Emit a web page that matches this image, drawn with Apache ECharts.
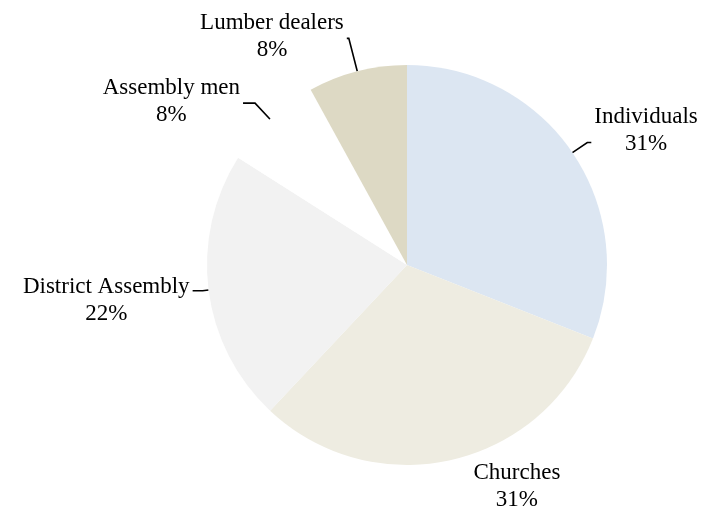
<!DOCTYPE html>
<html>
<head>
<meta charset="utf-8">
<script src="https://cdn.jsdelivr.net/npm/echarts@6/dist/echarts.min.js"></script>
<style>
  html, body { margin: 0; padding: 0; background: #fff; }
  #chart { width: 704px; height: 511px; }
</style>
</head>
<body>
<div id="chart"></div>
<script>
var categories = ['Individuals', 'Churches', 'District Assembly', 'Assembly men', 'Lumber dealers'];
var values = [31, 31, 22, 8, 8];
var colors = ['#dce6f2', '#eeece1', '#f2f2f2', '#ffffff', '#ddd9c4'];

// leader line lengths per slice [length, length2], tuned to the original
var lineLens = [[18, 4], [27, 14], [6, 10], [22, 12], [34, 2]];
// extra padding so the text sits a bit off the line end
var labelPads = [[0, 0, 24, 0], [0, 0, 0, 0], [20, 0, 0, 0], [0, 0, 4, 0], [0, 0, 4, 0]];

var chart = echarts.init(document.getElementById('chart'));

var data = [];
for (var i = 0; i < categories.length; i++) {
    var item = {
        name: categories[i],
        value: values[i],
        itemStyle: { color: colors[i] },
        label: { padding: labelPads[i] },
        labelLine: { length: lineLens[i][0], length2: lineLens[i][1] }
    };
    // Churches has no leader line in the original
    if (categories[i] === 'Churches') {
        item.labelLine.show = false;
    }
    data.push(item);
}

var option = {
    backgroundColor: '#ffffff',
    animation: false,
    series: [
        {
            type: 'pie',
            center: [407, 265],
            radius: 200,
            startAngle: 90,
            clockwise: true,
            avoidLabelOverlap: false,
            itemStyle: { borderWidth: 0 },
            label: {
                show: true,
                position: 'outside',
                distanceToLabelLine: 3,
                formatter: '{n|{b}}\n{n|{d}%}',
                rich: {
                    n: {
                        align: 'center',
                        fontFamily: '"Liberation Serif", "Times New Roman", serif',
                        fontSize: 23,
                        lineHeight: 27,
                        color: '#000'
                    }
                }
            },
            labelLine: {
                show: true,
                lineStyle: { color: '#000', width: 1.6 }
            },
            emphasis: { disabled: true },
            data: data
        }
    ]
};

chart.setOption(option);
</script>
</body>
</html>
